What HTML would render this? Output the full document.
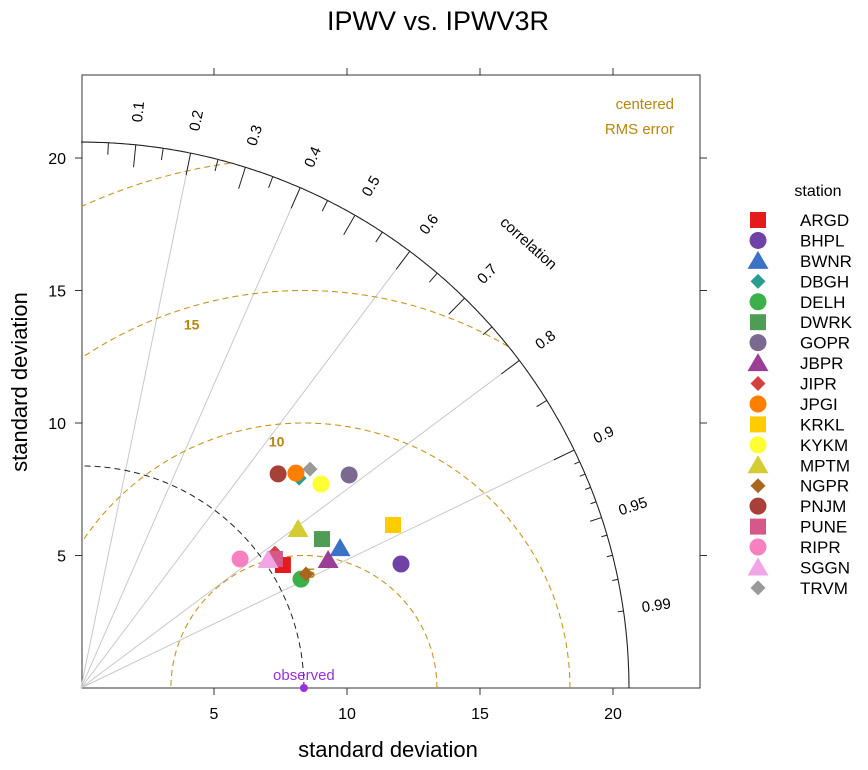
<!DOCTYPE html>
<html><head><meta charset="utf-8"><style>
body{margin:0;background:#fff;}
svg text{font-family:"Liberation Sans",sans-serif;}
</style></head><body>
<svg id="chart" width="868" height="765" xmlns="http://www.w3.org/2000/svg">
<text x="438" y="30" font-size="27" text-anchor="middle">IPWV vs. IPWV3R</text>
<text x="388" y="757" font-size="22" text-anchor="middle">standard deviation</text>
<text transform="translate(27,382) rotate(-90)" font-size="22" text-anchor="middle">standard deviation</text>
<text x="674" y="109" font-size="15" fill="#b8860b" text-anchor="end">centered</text>
<text x="674" y="134" font-size="15" fill="#b8860b" text-anchor="end">RMS error</text>
<text x="818" y="196" font-size="16" text-anchor="middle">station</text>
<g id="plot"></g>
<g id="legend"></g>
</svg>
<script>
const stations=["ARGD","BHPL","BWNR","DBGH","DELH","DWRK","GOPR","JBPR","JIPR","JPGI","KRKL","KYKM","MPTM","NGPR","PNJM","PUNE","RIPR","SGGN","TRVM"];
const sdX=[7.59,12.03,9.74,8.20,8.27,9.06,10.08,9.29,7.29,8.08,11.73,9.02,8.16,8.46,7.41,7.29,5.98,7.03,8.61];
const sdY=[4.64,4.68,5.28,7.92,4.11,5.62,8.04,4.83,5.09,8.11,6.15,7.70,6.00,4.30,8.08,4.87,4.87,4.83,8.26];
const shapes=["sq","ci","tr","di","ci","sq","ci","tr","di","ci","sq","ci","tr","di","ci","sq","ci","tr","di"];
const colors=["#e41a1c","#6f42a6","#3a72c8","#2a9d8f","#3cb04a","#4f9d55","#7b6a8f","#9b3f96","#d64040","#ff7f00","#ffcc00","#ffff33","#d4cc30","#a8671f","#a8403a","#d4588a","#f780c0","#f2a5e6","#999999"];
const observedSd=8.38;
const maxSd=20.6;
const rmsLevels=[5,10,15,20];
const rmsLabels=["5","10","15"];
const corrLabels=[0.1,0.2,0.3,0.4,0.5,0.6,0.7,0.8,0.9,0.95,0.99];
const corrLines=[0.2,0.4,0.6,0.8,0.9];
const xTicks=[5,10,15,20];
const yTicks=[5,10,15,20];

const NS="http://www.w3.org/2000/svg";
const X0=81,Y0=688,SX=26.6,SY=26.5;
const sx=v=>X0+v*SX, sy=v=>Y0-v*SY;
const plot=document.getElementById('plot'), leg=document.getElementById('legend');
function mk(tag,attrs,parent){const e=document.createElementNS(NS,tag);for(const k in attrs)e.setAttribute(k,attrs[k]);(parent||plot).appendChild(e);return e;}

let f=mk('rect',{x:82,y:75,width:618,height:613,fill:'none',stroke:'#333','stroke-width':1});


xTicks.forEach(t=>{
  let a=mk('line',{x1:sx(t),x2:sx(t),y1:688,y2:695,stroke:'#333'});
  
  
  let b=mk('line',{x1:sx(t),x2:sx(t),y1:75,y2:68,stroke:'#333'});
  
  
  let l=mk('text',{x:sx(t),y:719,'font-size':16,'text-anchor':'middle'});l.textContent=t;
  
  
});
yTicks.forEach(t=>{
  let a=mk('line',{x1:75,x2:82,y1:sy(t),y2:sy(t),stroke:'#333'});
  
  
  let b=mk('line',{x1:700,x2:707,y1:sy(t),y2:sy(t),stroke:'#333'});
  
  
  let l=mk('text',{x:66,y:sy(t)+6,'font-size':16,'text-anchor':'end'});l.textContent=t;
  
  
});

corrLines.forEach(r=>{
  const th=Math.acos(r);
  let e=mk('line',{x1:sx(0),y1:sy(0),x2:sx(maxSd*Math.cos(th)),y2:sy(maxSd*Math.sin(th)),stroke:'#c8c8c8','stroke-width':1});
  
  
});

rmsLevels.forEach(R=>{
  let d='';let started=false;
  for(let i=0;i<=720;i++){
    const a=Math.PI*i/720;
    const x=observedSd+R*Math.cos(a), y=R*Math.sin(a);
    const ok=x>=0&&y>=0&&Math.hypot(x,y)<=maxSd;
    if(ok){d+=(started?'L':'M')+sx(x).toFixed(1)+' '+sy(y).toFixed(1);started=true;}else started=false;
  }
  let e=mk('path',{d:d,fill:'none',stroke:'#c8961e','stroke-width':1.1,'stroke-dasharray':'6,4'});
  
  
});
const rmsLabelAngle=[0.48*Math.PI,0.535*Math.PI,0.595*Math.PI];
rmsLabels.forEach((s,i)=>{
  const R=rmsLevels[i]-0.65,a=rmsLabelAngle[i];
  let t=mk('text',{x:sx(observedSd+R*Math.cos(a)),y:sy(R*Math.sin(a))+5,'font-size':14,'font-weight':'bold',fill:'#b8860b','text-anchor':'middle'});
  t.textContent=s;
  
  
});

{
  let d='';
  for(let i=0;i<=180;i++){const a=Math.PI/2*i/180;d+=(i?'L':'M')+sx(observedSd*Math.cos(a)).toFixed(1)+' '+sy(observedSd*Math.sin(a)).toFixed(1);}
  let e=mk('path',{d:d,fill:'none',stroke:'#222','stroke-width':1,'stroke-dasharray':'6,4'});
  
  
}
{
  let d='';
  for(let i=0;i<=360;i++){const a=Math.PI/2*i/360;d+=(i?'L':'M')+sx(maxSd*Math.cos(a)).toFixed(1)+' '+sy(maxSd*Math.sin(a)).toFixed(1);}
  let e=mk('path',{d:d,fill:'none',stroke:'#222','stroke-width':1.1});
  
  
}
function tick(r,len){
  const th=Math.acos(r);
  let e=mk('line',{x1:sx(maxSd*Math.cos(th)),y1:sy(maxSd*Math.sin(th)),x2:sx((maxSd-len)*Math.cos(th)),y2:sy((maxSd-len)*Math.sin(th)),stroke:'#222'});
  
  
}
for(let k=1;k<=9;k++)tick(k/10,0.85);
for(let k=0;k<9;k++)tick(k/10+0.05,0.45);
tick(0.95,0.45);
for(let k=91;k<=99;k++)if(k!==95)tick(k/100,0.22);
corrLabels.forEach(r=>{
  const th=Math.acos(r),R=maxSd+1.25;
  const x=sx(R*Math.cos(th)),y=sy(R*Math.sin(th));
  let t=mk('text',{x:x,y:y,'font-size':15,'text-anchor':'middle','dominant-baseline':'middle',transform:`rotate(${-th*180/Math.PI} ${x} ${y})`});
  t.textContent=r;
  
  
});
{
  let t=mk('text',{x:528,y:244,'font-size':15,'text-anchor':'middle','dominant-baseline':'middle',transform:'rotate(42 528 244)'});
  t.textContent='correlation';
  
  
}
{
  let c=mk('circle',{cx:sx(observedSd),cy:sy(0),r:4,fill:'#9a2ee0'});
  
  
  let t=mk('text',{x:sx(observedSd),y:sy(0)-8,'font-size':15,fill:'#9a2ee0','text-anchor':'middle'});
  t.textContent='observed';
  
  
}
function shape(s,cx,cy,col,par){
  let e;
  if(s==='sq')e=mk('rect',{x:cx-8,y:cy-8,width:16,height:16,fill:col},par);
  else if(s==='ci')e=mk('circle',{cx:cx,cy:cy,r:8.5,fill:col},par);
  else if(s==='tr')e=mk('polygon',{points:`${cx},${cy-10} ${cx+10.5},${cy+8} ${cx-10.5},${cy+8}`,fill:col},par);
  else e=mk('polygon',{points:`${cx},${cy-7.5} ${cx+7.5},${cy} ${cx},${cy+7.5} ${cx-7.5},${cy}`,fill:col},par);
  return e;
}
stations.forEach((s,i)=>{
  let e=shape(shapes[i],sx(sdX[i]),sy(sdY[i]),colors[i]);
  
  
  const ly=220+i*20.44;
  let m=shape(shapes[i],758,ly,colors[i],leg);
  
  
  let t=mk('text',{x:800,y:ly+6,'font-size':17},leg);
  t.textContent=s;
  
  
});
</script>
</body></html>
